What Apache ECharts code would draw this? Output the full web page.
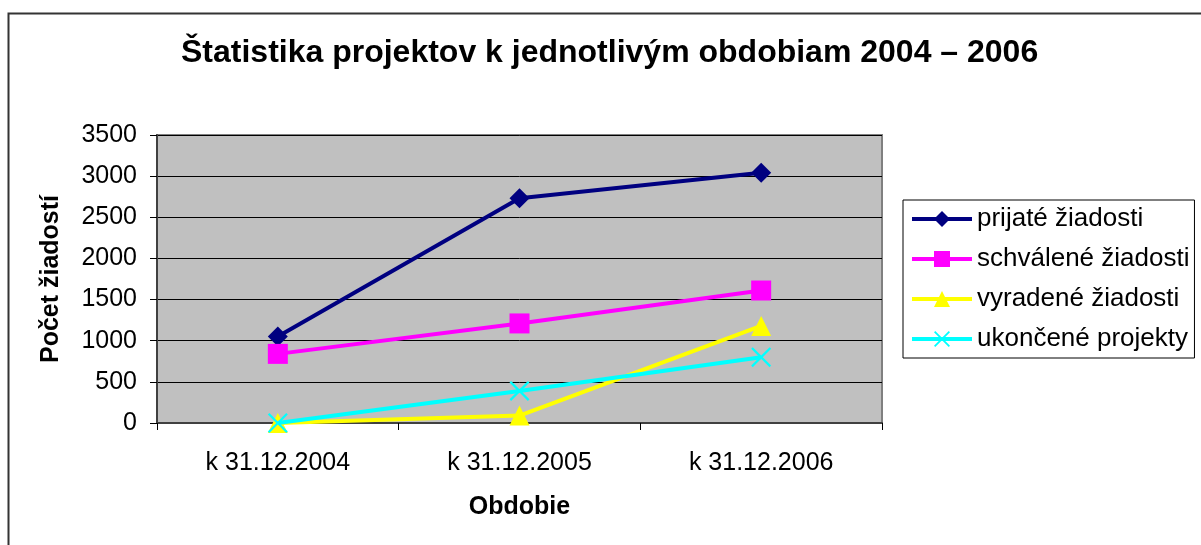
<!DOCTYPE html>
<html>
<head>
<meta charset="utf-8">
<script src="https://cdn.jsdelivr.net/npm/echarts@6/dist/echarts.min.js"></script>
<style>
html,body{margin:0;padding:0;background:#fff;}
#chart{width:1201px;height:545px;}
</style>
</head>
<body>
<div id="chart"></div>
<script>
const categories = ['k 31.12.2004', 'k 31.12.2005', 'k 31.12.2006'];
const seriesNames = ['prijaté žiadosti', 'schválené žiadosti', 'vyradené žiadosti', 'ukončené projekty'];
const prijate = [1050, 2730, 3040];
const schvalene = [840, 1210, 1610];
const vyradene = [0, 90, 1180];
const ukoncene = [0, 390, 800];
const yTicks = [0, 500, 1000, 1500, 2000, 2500, 3000, 3500];
const titleText = 'Štatistika projektov k jednotlivým obdobiam 2004 – 2006';
const xName = 'Obdobie';
const yName = 'Počet žiadostí';

const FONT = "'Liberation Sans', Arial, sans-serif";
const crossPath = 'path://M0,1.6L1.6,0L10,8.4L18.4,0L20,1.6L11.6,10L20,18.4L18.4,20L10,11.6L1.6,20L0,18.4L8.4,10Z';

const colors = ['#000080', '#ff00ff', '#ffff00', '#00ffff'];
const symbols = ['diamond', 'rect', 'triangle', crossPath];
const symbolSizes = [20, 20, 20, 20];
const dataSets = [prijate, schvalene, vyradene, ukoncene];

const chart = echarts.init(document.getElementById('chart'), null, {renderer: 'canvas'});
chart.setOption({
  animation: false,
  backgroundColor: '#ffffff',
  title: {
    text: titleText,
    left: 176,
    top: 32,
    padding: [5, 5, 5, 5],
    textStyle: {fontFamily: FONT, fontSize: 32, fontWeight: 'bold', color: '#000'}
  },
  graphic: [{
    type: 'rect',
    shape: {x: 8.5, y: 13.5, width: 1400, height: 800},
    style: {fill: null, stroke: '#333333', lineWidth: 2},
    silent: true,
    z: -10
  }],
  legend: {
    orient: 'vertical',
    left: 903,
    top: 200,
    padding: [6, 5, 6, 7],
    itemGap: 14,
    itemWidth: 60,
    itemHeight: 20,
    borderColor: '#000',
    borderWidth: 1,
    backgroundColor: '#fff',
    lineStyle: {width: 4},
    textStyle: {fontFamily: FONT, fontSize: 26, color: '#000'},
    data: seriesNames
  },
  grid: {
    left: 157,
    right: 319,
    top: 135,
    bottom: 122,
    show: true,
    backgroundColor: '#c0c0c0',
    borderColor: '#808080',
    borderWidth: 2
  },
  xAxis: {
    type: 'category',
    data: categories,
    boundaryGap: true,
    name: xName,
    nameLocation: 'middle',
    nameGap: 72,
    nameTextStyle: {fontFamily: FONT, fontSize: 25, fontWeight: 'bold', color: '#000'},
    axisLine: {show: true, lineStyle: {color: '#404040', width: 2}},
    axisTick: {show: true, alignWithLabel: false, length: 7, lineStyle: {color: '#000', width: 1}},
    axisLabel: {fontFamily: FONT, fontSize: 25, color: '#000', margin: 28},
    splitLine: {show: false}
  },
  yAxis: {
    type: 'value',
    min: 0,
    max: 3500,
    interval: 500,
    name: yName,
    nameLocation: 'middle',
    nameGap: 93,
    nameRotate: 90,
    nameTextStyle: {fontFamily: FONT, fontSize: 25, fontWeight: 'bold', color: '#000'},
    axisLine: {show: true, lineStyle: {color: '#404040', width: 2}},
    axisTick: {show: true, length: 7, lineStyle: {color: '#000', width: 1}},
    axisLabel: {
      fontFamily: FONT, fontSize: 25, color: '#000', margin: 20,
      formatter: function (v) { return yTicks.indexOf(v) >= 0 ? String(v) : ''; }
    },
    splitLine: {show: true, lineStyle: {color: '#000', width: 1}}
  },
  series: seriesNames.map(function (name, i) {
    return {
      name: name,
      type: 'line',
      data: dataSets[i],
      symbol: symbols[i],
      symbolSize: symbolSizes[i],
      showAllSymbol: true,
      lineStyle: {color: colors[i], width: 4},
      itemStyle: {color: colors[i], borderWidth: 0},
      z: 2 + i
    };
  })
});
</script>
</body>
</html>
